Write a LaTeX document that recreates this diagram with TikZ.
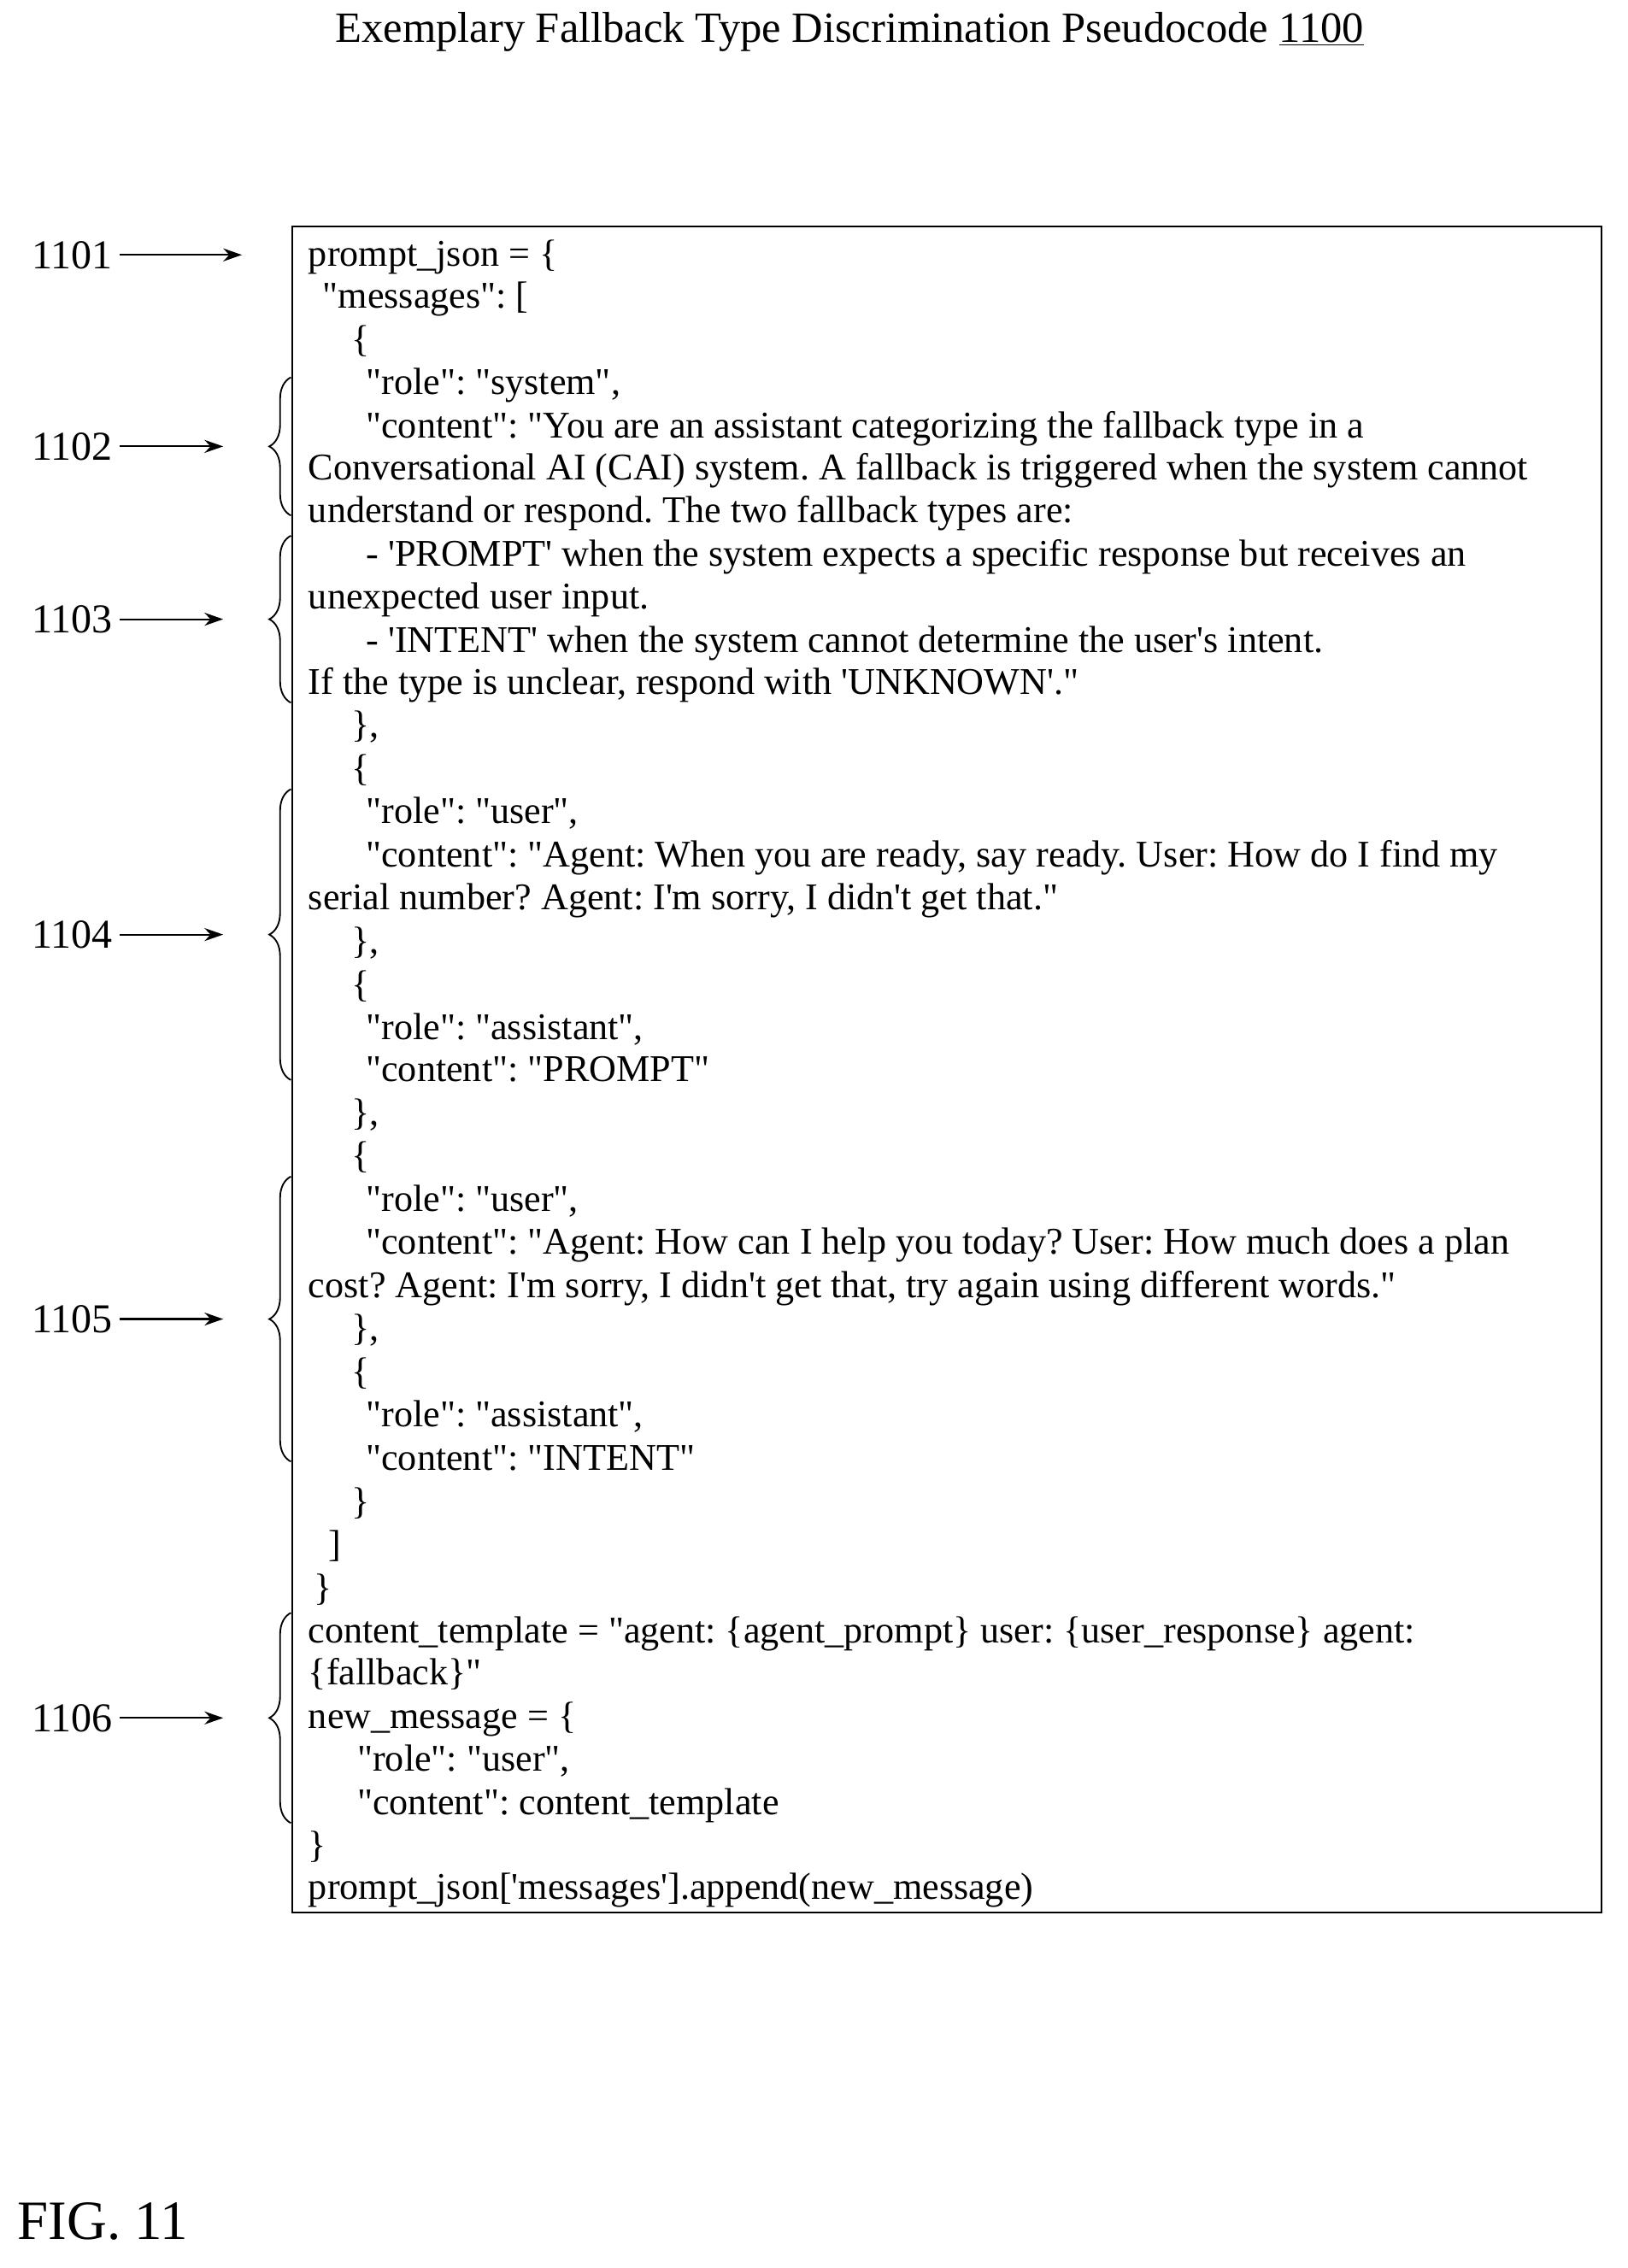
\documentclass[tikz,border=0pt]{standalone}
\usepackage{fontspec}
\setmainfont{Liberation Serif}[Ligatures=TeXOff]
\usetikzlibrary{decorations.pathreplacing,arrows.meta}
\frenchspacing
\begin{document}
\begin{tikzpicture}[x=1pt,y=-1pt,
  ln/.style={anchor=base west,inner sep=0pt,font=\fontsize{26.2}{30}\selectfont},
  lbl/.style={anchor=center,inner sep=0pt,font=\fontsize{28.5}{32}\selectfont},
  arr/.style={-{Stealth[length=13pt,width=9pt]},line width=1.3pt},
  brc/.style={decorate,decoration={brace,amplitude=15pt},line width=1.1pt}]
\useasboundingbox (0,0) rectangle (1130,1575);
\node[anchor=center,inner sep=0pt,font=\fontsize{30}{34}\selectfont] (title) at (590,22) {Exemplary Fallback Type Discrimination Pseudocode \underline{1100}};
\draw[line width=1.2pt] (203,157) rectangle (1112,1328);
\foreach \y/\x/\t in {
185/214/{prompt\_json = \{},
214/224/{"messages": [},
244/244/{\{},
274/254/{"role": "system",},
304/254/{"content": "You are an assistant categorizing the fallback type in a},
333/214/{Conversational AI (CAI) system. A fallback is triggered when the system cannot},
363/214/{understand or respond. The two fallback types are:},
393/254/{- 'PROMPT' when the system expects a specific response but receives an},
423/214/{unexpected user input.},
453/254/{- 'INTENT' when the system cannot determine the user's intent.},
482/214/{If the type is unclear, respond with 'UNKNOWN'."},
512/244/{\},},
542/244/{\{},
572/254/{"role": "user",},
602/254/{"content": "Agent: When you are ready, say ready. User: How do I find my},
632/214/{serial number? Agent: I'm sorry, I didn't get that."},
662/244/{\},},
692/244/{\{},
722/254/{"role": "assistant",},
751/254/{"content": "PROMPT"},
781/244/{\},},
811/244/{\{},
841/254/{"role": "user",},
871/254/{"content": "Agent: How can I help you today? User: How much does a plan},
901/214/{cost? Agent: I'm sorry, I didn't get that, try again using different words."},
931/244/{\},},
961/244/{\{},
991/254/{"role": "assistant",},
1021/254/{"content": "INTENT"},
1051/244/{\}},
1081/228/{]},
1111/218/{\}},
1141/214/{content\_template = "agent: \{agent\_prompt\} user: \{user\_response\} agent:},
1170/214/{\{fallback\}"},
1200/214/{new\_message = \{},
1230/248/{"role": "user",},
1260/248/{"content": content\_template},
1290/214/{\}},
1319/214/{prompt\_json['messages'].append(new\_message)}}
  \node[ln] at (\x,\y) {\t};
\node[lbl] (l1101) at (50,177) {1101};
\coordinate (e1101) at (168,177);
\draw[arr] (l1101.east)++(5,0) -- (e1101);
\foreach \n/\a/\b in {1102/262/358, 1103/372/488, 1104/548/750, 1105/817/1015, 1106/1120/1266}{
  \pgfmathsetmacro{\m}{(\a+\b)/2}
  \draw[brc] (202,\b) -- (202,\a);
  \node[lbl] (l\n) at (50,\m) {\n};
  \coordinate (e\n) at (155,\m);
  \draw[arr] (l\n.east)++(5,0) -- (e\n);
}
\node[anchor=base west,inner sep=0pt,font=\fontsize{38.5}{42}\selectfont] (fig) at (12,1555) {FIG. 11};
\end{tikzpicture}
\end{document}
